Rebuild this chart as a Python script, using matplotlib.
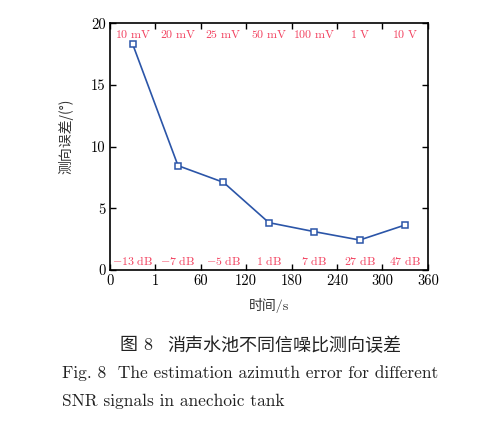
import matplotlib
matplotlib.use('Agg')
import matplotlib.pyplot as plt
import numpy as np

plt.rcParams['mathtext.fontset'] = 'cm'
plt.rcParams['axes.unicode_minus'] = False
plt.rcParams['font.family'] = ['cmr10', 'Noto Sans CJK SC']

# datos
x_tick_labels = ['0', '1', '60', '120', '180', '240', '300', '360']
error_deg = [18.33, 8.46, 7.11, 3.84, 3.11, 2.43, 3.65]
voltages = ['10 mV', '20 mV', '25 mV', '50 mV', '100 mV', '1 V', '10 V']
snr_db = [-13, -7, -5, 1, 7, 27, 47]

label_color = '#f2405e'
line_color = '#2b55a8'


def volt_tex(v):
    num, unit = v.split()
    return r'$%s\ \mathrm{%s}$' % (num, unit)


def snr_tex(d):
    return r'$%d\ \mathrm{dB}$' % d


fig = plt.figure(figsize=(4.84, 4.32), dpi=100)
ax = fig.add_axes([0.227, 0.375, 0.657, 0.571])

xpos = np.arange(len(error_deg)) + 0.5
ax.plot(xpos, error_deg, color=line_color, linewidth=1.2, marker='s',
        markersize=5, markerfacecolor='white', markeredgecolor=line_color,
        markeredgewidth=1.1)

for xp, v, d in zip(xpos, voltages, snr_db):
    ax.text(xp, 19.1, volt_tex(v), color=label_color, fontsize=8.6,
            ha='center', va='center')
    ax.text(xp, 0.8, snr_tex(d), color=label_color, fontsize=8.6,
            ha='center', va='center')

ax.set_xlim(0, len(x_tick_labels) - 1)
ax.set_ylim(0, 20)
ax.set_xticks(np.arange(len(x_tick_labels)))
ax.set_xticklabels(x_tick_labels)
ax.set_yticks([0, 5, 10, 15, 20])
ax.set_yticklabels(['0', '5', '10', '15', '20'])
ax.tick_params(direction='in', top=True, right=True, length=4, width=1,
               labelsize=10.5, pad=3)
for s in ax.spines.values():
    s.set_linewidth(1.2)

ax.set_xlabel('时间/s', fontsize=10, color='#333333', labelpad=7)
ax.set_ylabel('测向误差/(°)', fontsize=10, color='#333333',
              family=['Noto Sans CJK SC'])
ax.yaxis.set_label_coords(-0.115, 0.54)

fig.text(0.248, 0.201, '图 8', fontsize=13, ha='left', va='center',
         color='#222222')
fig.text(0.345, 0.201, '消声水池不同信噪比测向误差', fontsize=13,
         ha='left', va='center', color='#222222')
fig.text(0.128, 0.137, 'Fig. 8  The estimation azimuth error for different',
         fontsize=12.5, ha='left', va='center', color='#222222')
fig.text(0.128, 0.07, 'SNR signals in anechoic tank',
         fontsize=12.5, ha='left', va='center', color='#222222')

fig.savefig('out.png', dpi=100)
